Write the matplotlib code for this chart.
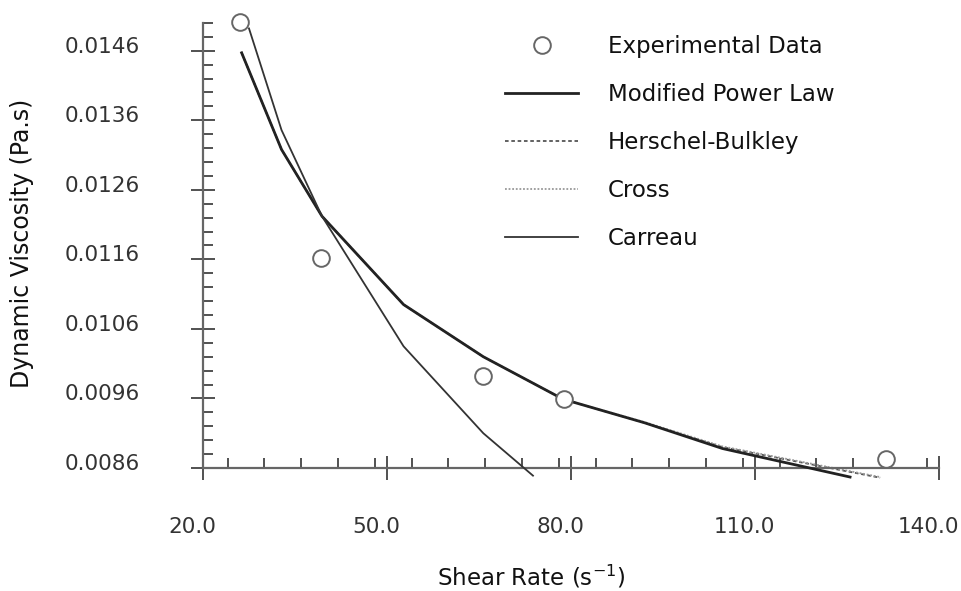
import matplotlib
matplotlib.use("Agg")
import matplotlib.pyplot as plt
from matplotlib.transforms import ScaledTranslation
from matplotlib.ticker import FixedLocator, MultipleLocator
import numpy as np

# ---------------- data ----------------
exp_x = [26.0, 39.2, 65.7, 78.8, 131.4]
exp_y = [0.01502, 0.01162, 0.00993, 0.00959, 0.00873]

mpl_x = [26.3, 32.8, 39.4, 52.7, 65.7, 78.7, 92.0, 104.7, 125.5]
mpl_y = [0.01457, 0.01318, 0.01222, 0.01095, 0.01020, 0.00959, 0.00925, 0.00888, 0.00847]

hb_x = [26.3, 32.8, 39.4, 52.7, 65.7, 78.7, 92.0, 104.7, 130.4]
hb_y = [0.01457, 0.01318, 0.01222, 0.01095, 0.01020, 0.00959, 0.00925, 0.00890, 0.00846]

cross_x = [26.3, 32.8, 39.4, 52.7, 65.7, 78.7, 92.0, 104.7, 130.4]
cross_y = [0.01457, 0.01318, 0.01222, 0.01095, 0.01020, 0.00959, 0.00926, 0.00891, 0.00847]

carreau_x = [27.5, 32.8, 39.4, 52.7, 65.7, 73.8]
carreau_y = [0.01492, 0.01346, 0.01222, 0.01035, 0.00910, 0.00849]

x_ticks = [20, 50, 80, 110, 140]
x_tick_labels = ["20.0", "50.0", "80.0", "110.0", "140.0"]
y_ticks = [0.0086, 0.0096, 0.0106, 0.0116, 0.0126, 0.0136, 0.0146]
y_tick_labels = ["0.0086", "0.0096", "0.0106", "0.0116", "0.0126", "0.0136", "0.0146"]

# ---------------- figure ----------------
W, H = 961, 591
fig = plt.figure(figsize=(W / 100, H / 100), dpi=100)
plt.rcParams['font.family'] = ['DejaVu Sans']

ax_l, ax_r, ax_t, ax_b = 203, 939, 22.9, 468
ax = fig.add_axes([ax_l / W, 1 - ax_b / H, (ax_r - ax_l) / W, (ax_b - ax_t) / H])
ax.set_xlim(20, 140)
ax.set_ylim(0.0086, 0.0150)

ax.plot(hb_x, hb_y, color='#555555', lw=1.3, ls=(0, (2.0, 1.5)), label='Herschel-Bulkley',
        zorder=2, clip_on=False)
ax.plot(cross_x, cross_y, color='#999999', lw=1.3, ls=(0, (1.0, 1.0)), label='Cross',
        zorder=2, clip_on=False)
ax.plot(mpl_x, mpl_y, color='#222222', lw=2.0, label='Modified Power Law', zorder=3, clip_on=False)
ax.plot(carreau_x, carreau_y, color='#333333', lw=1.3, label='Carreau', zorder=3, clip_on=False)
ax.plot(exp_x, exp_y, ls='none', marker='o', ms=12, mfc='white', mec='#666666', mew=1.4,
        label='Experimental Data', zorder=4, clip_on=False)

for side in ['top', 'right']:
    ax.spines[side].set_visible(False)
for side in ['left', 'bottom']:
    ax.spines[side].set_color('#666666')
    ax.spines[side].set_linewidth(1.6)

ax.xaxis.set_major_locator(FixedLocator(x_ticks))
ax.set_xticklabels(x_tick_labels)
ax.xaxis.set_minor_locator(MultipleLocator(6))
ax.yaxis.set_major_locator(FixedLocator(y_ticks))
ax.set_yticklabels(y_tick_labels)
ax.yaxis.set_minor_locator(FixedLocator(list(np.arange(0.0086, 0.01501, 0.0002))))

ax.tick_params(which='major', direction='inout', length=17, width=1.2, color='#333333',
               labelsize=15.5, labelcolor='#333333')
ax.tick_params(which='minor', direction='in', length=7.5, width=1.2, color='#333333')
ax.tick_params(axis='x', which='major', pad=27)
ax.tick_params(axis='y', which='major', pad=37)

for lab in ax.get_yticklabels():
    lab.set_transform(lab.get_transform() + ScaledTranslation(0, 6 / 100, fig.dpi_scale_trans))
for lab in ax.get_xticklabels():
    lab.set_transform(lab.get_transform() + ScaledTranslation(-11 / 100, 0, fig.dpi_scale_trans))

fig.text(531 / W, 1 - 577 / H, r'Shear Rate (s$^{-1}$)', ha='center', va='center', fontsize=16.5,
         color='#111111')
fig.text(22 / W, 1 - 243 / H, 'Dynamic Viscosity (Pa.s)', ha='center', va='center', rotation=90,
         fontsize=17, color='#111111')

handles, labels = ax.get_legend_handles_labels()
order = ['Experimental Data', 'Modified Power Law', 'Herschel-Bulkley', 'Cross', 'Carreau']
hmap = dict(zip(labels, handles))
leg = fig.legend([hmap[k] for k in order], order, loc='upper left',
                 bbox_to_anchor=(505 / W, 1 - 35 / H), frameon=False, fontsize=16.5,
                 handlelength=3.2, handletextpad=1.3, labelspacing=1.09, borderpad=0,
                 borderaxespad=0, numpoints=1)
for t in leg.get_texts():
    t.set_color('#111111')

fig.savefig('out.png', dpi=100)
